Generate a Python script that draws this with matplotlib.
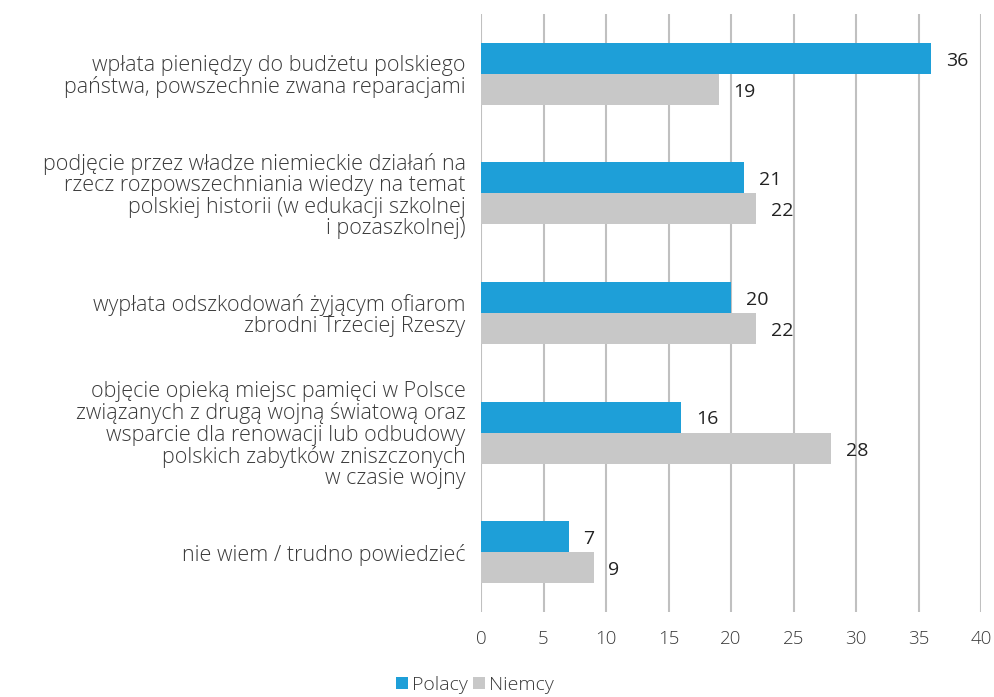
import matplotlib.pyplot as plt
import numpy as np

# Dane
categories = [
    'wpłata pieniędzy do budżetu polskiego\npaństwa, powszechnie zwana reparacjami',
    'podjęcie przez władze niemieckie działań na\nrzecz rozpowszechniania wiedzy na temat\npolskiej historii (w edukacji szkolnej\ni pozaszkolnej)',
    'wypłata odszkodowań żyjącym ofiarom\nzbrodni Trzeciej Rzeszy',
    'objęcie opieką miejsc pamięci w Polsce\nzwiązanych z drugą wojną światową oraz\nwsparcie dla renowacji lub odbudowy\npolskich zabytków zniszczonych\nw czasie wojny',
    'nie wiem / trudno powiedzieć',
]
polacy = [36, 21, 20, 16, 7]
niemcy = [19, 22, 22, 28, 9]
ticks = [0, 5, 10, 15, 20, 25, 30, 35, 40]

plt.rcParams['font.family'] = ['Open Sans', 'DejaVu Sans']
text_color = '#3a3a3a'

fig = plt.figure(figsize=(9.95, 6.97), dpi=100)
ax = fig.add_axes([481 / 995, 1 - 612 / 697, 500 / 995, 598 / 697])

y = np.arange(len(categories))
h = 0.26
b1 = ax.barh(y - h / 2, polacy, height=h, color='#1e9fd8', label='Polacy', zorder=3)
b2 = ax.barh(y + h / 2, niemcy, height=h, color='#c8c8c8', label='Niemcy', zorder=3)

for bars, vals in [(b1, polacy), (b2, niemcy)]:
    for bar, v in zip(bars, vals):
        ax.text(bar.get_width() + 1.2, bar.get_y() + bar.get_height() / 2 + 0.02, f'{v}',
                ha='left', va='center', fontsize=14, color='#222222')

ax.set_ylim(len(categories) - 0.5, -0.5)
ax.set_xlim(0, 40)
ax.set_xticks(ticks)
ax.set_xticklabels([str(t) for t in ticks], fontsize=13.5, color=text_color, fontweight='light')
ax.set_yticks(y)
ax.set_yticklabels(categories, fontsize=15.5, color=text_color, fontweight='light',
                   linespacing=1.02)
ax.tick_params(axis='both', length=0)
ax.tick_params(axis='y', pad=11)
ax.tick_params(axis='x', pad=13)
for s in ax.spines.values():
    s.set_visible(False)
ax.grid(True, axis='x', color='#c0c0c0', linewidth=1.5, zorder=0)
ax.set_axisbelow(True)

leg = fig.legend(loc='center', bbox_to_anchor=(475 / 995, 1 - 685 / 697), ncol=2, frameon=False,
                 fontsize=14, handlelength=0.6, handleheight=0.6, handletextpad=0.2,
                 columnspacing=0.3)
for t in leg.get_texts():
    t.set_color(text_color)
    t.set_fontweight('light')

fig.savefig('out.png', dpi=100)
